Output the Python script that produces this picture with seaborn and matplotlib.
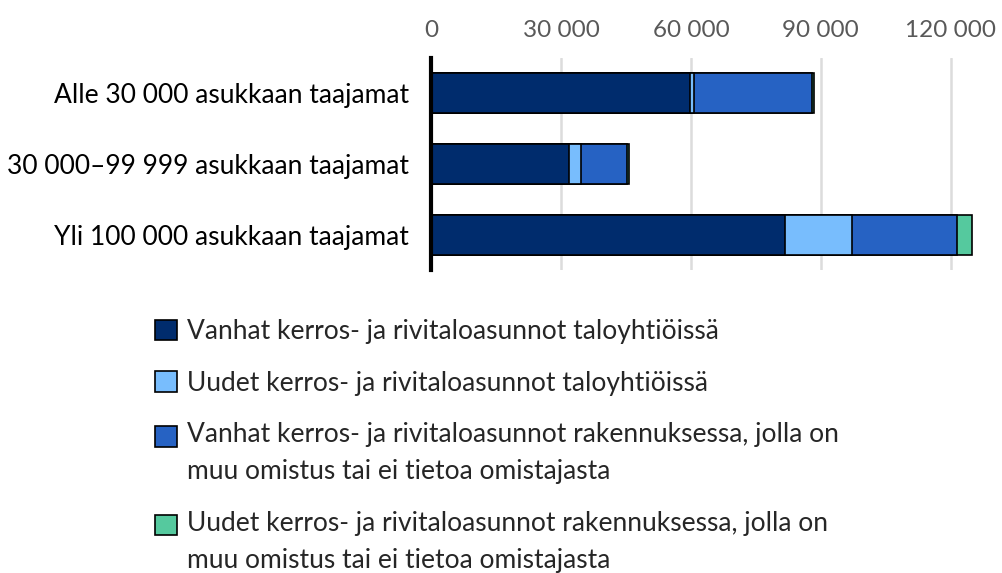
import numpy as np
import pandas as pd
import seaborn as sns
import matplotlib.pyplot as plt
from matplotlib.patches import Patch
from matplotlib.ticker import FuncFormatter

# Data
categories = ['Alle 30 000 asukkaan taajamat',
              '30 000–99 999 asukkaan taajamat',
              'Yli 100 000 asukkaan taajamat']
series_names = ['Vanhat kerros- ja rivitaloasunnot taloyhtiöissä',
                'Uudet kerros- ja rivitaloasunnot taloyhtiöissä',
                'Vanhat kerros- ja rivitaloasunnot rakennuksessa, jolla on\nmuu omistus tai ei tietoa omistajasta',
                'Uudet kerros- ja rivitaloasunnot rakennuksessa, jolla on\nmuu omistus tai ei tietoa omistajasta']
old_taloyhtio = [59900, 31900, 81800]
new_taloyhtio = [800, 2800, 15500]
old_other = [27200, 10600, 24100]
new_other = [600, 500, 3400]
colors = ['#002c6d', '#78bdfd', '#2662c3', '#55c99e']
x_ticks = [0, 30000, 60000, 90000, 120000]


def thousands(v, pos):
    return f'{int(v):,}'.replace(',', ' ')


def main():
    sns.set_style('white')
    plt.rcParams['font.family'] = ['Lato', 'DejaVu Sans']

    df = pd.DataFrame({'cat': categories,
                       's0': old_taloyhtio, 's1': new_taloyhtio,
                       's2': old_other, 's3': new_other})
    cum = df[['s0', 's1', 's2', 's3']].cumsum(axis=1)

    fig = plt.figure(figsize=(10.03, 5.73), dpi=100)
    ax = fig.add_axes([0.4297, 0.529, 0.555, 0.370])

    # stacked bars: draw cumulative totals from the outermost segment inwards
    for i in reversed(range(4)):
        sns.barplot(x=cum[f's{i}'], y=df['cat'], orient='h', color=colors[i],
                    saturation=1, width=0.566, edgecolor='black', linewidth=1.2,
                    ax=ax, zorder=3)

    ax.set_xlim(0, 128500)
    ax.set_ylim(2.5, -0.5)
    ax.set_xticks(x_ticks)
    ax.xaxis.set_major_formatter(FuncFormatter(thousands))
    ax.xaxis.tick_top()
    ax.tick_params(axis='x', length=0, pad=12, labelsize=17.5, labelcolor='#595959')
    ax.tick_params(axis='y', length=0, pad=16, labelsize=19, labelcolor='black')
    ax.set_xlabel('')
    ax.set_ylabel('')
    ax.grid(axis='x', color='#dcdcdc', linewidth=1.8, zorder=0)
    ax.grid(axis='y', visible=False)
    for side in ['top', 'right', 'bottom']:
        ax.spines[side].set_visible(False)
    ax.spines['left'].set_linewidth(3)
    ax.spines['left'].set_color('black')
    ax.spines['left'].set_zorder(5)

    handles = [Patch(facecolor=c, edgecolor='black', linewidth=1.2) for c in colors]
    leg = fig.legend(handles, series_names, loc='upper left', bbox_to_anchor=(0.155, 0.443),
                     frameon=False, fontsize=19, handlelength=0.83, handleheight=0.83,
                     handletextpad=0.35, labelspacing=1.0, borderpad=0, borderaxespad=0)
    for t in leg.get_texts():
        t.set_linespacing(1.62)
    # put the square next to the first line of the two-line entries
    for h, name in zip(leg.legend_handles, series_names):
        if '\n' in name:
            h.set_y(h.get_y() + 12.8)

    fig.savefig('out.png', dpi=100)


if __name__ == '__main__':
    main()
